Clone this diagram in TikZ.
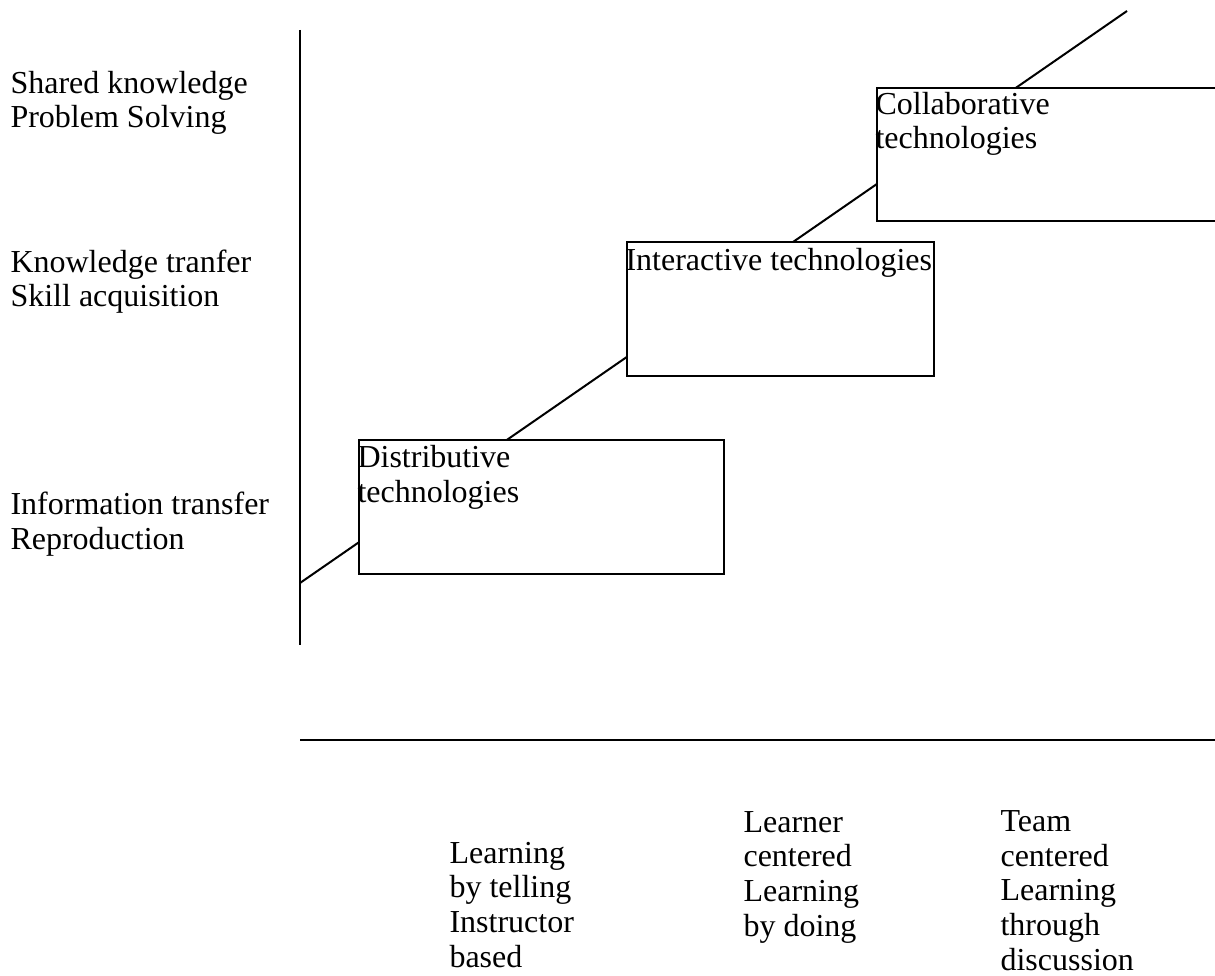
\documentclass[tikz,border=0pt]{standalone}
\usepackage{fontspec}
\setmainfont{Liberation Serif}
\usetikzlibrary{positioning}

\begin{document}
\begin{tikzpicture}[x=0.375pt, y=-0.375pt,
  every node/.style={font=\fontsize{12pt}{13pt}\selectfont, inner sep=0pt},
  axistext/.style={align=left, anchor=base west},
  techbox/.style={draw, fill=white, line width=0.75pt, anchor=north west},
  techtext/.style={align=left, anchor=base west}]
\useasboundingbox (0,0) rectangle (1215,976);
\clip (0,0) rectangle (1215,976);
% axes
\coordinate (ytop) at (300,30);
\coordinate (ybot) at (300,645);
\coordinate (xleft) at (300,740);
\coordinate (xright) at (1215,740);
\draw[line width=0.75pt] (ytop)--(ybot);
\draw[line width=0.75pt] (xleft)--(xright);
% trend line first, the boxes cover it
\coordinate (trendlow) at (300,583);
\coordinate (trendhigh) at (1127,11);
\draw[line width=0.75pt] (trendlow)--(trendhigh);
% technology boxes (text placed by its last baseline)
\node[techbox, minimum width=136.9pt, minimum height=50.3pt] (distbox) at (358,439) {};
\node[techbox, minimum width=115.1pt, minimum height=50.3pt] (interbox) at (626,241) {};
\node[techbox, minimum width=150pt, minimum height=50pt] (collabbox) at (876,87) {};
\node[techtext] (disttext) at ([shift={(-1,63)}]distbox.north west) {Distributive\\technologies};
\node[techtext] (intertext) at ([shift={(-1,30)}]interbox.north west) {Interactive technologies};
\node[techtext] (collabtext) at ([shift={(-1,62)}]collabbox.north west) {Collaborative\\technologies};
% left labels
\node[axistext] (sharedlabel) at (10,128) {Shared knowledge\\Problem Solving};
\node[axistext] (knowlabel) at (10,307) {Knowledge tranfer\\Skill acquisition};
\node[axistext] (infolabel) at (10,549) {Information transfer\\Reproduction};
% bottom labels
\node[axistext] (tellinglabel) at (449,967) {Learning\\by telling\\Instructor\\based};
\node[axistext] (doinglabel) at (743,936) {Learner\\centered\\Learning\\by doing};
\node[axistext] (teamlabel) at (1000,970) {Team\\centered\\Learning\\through\\discussion};
\end{tikzpicture}
\end{document}
